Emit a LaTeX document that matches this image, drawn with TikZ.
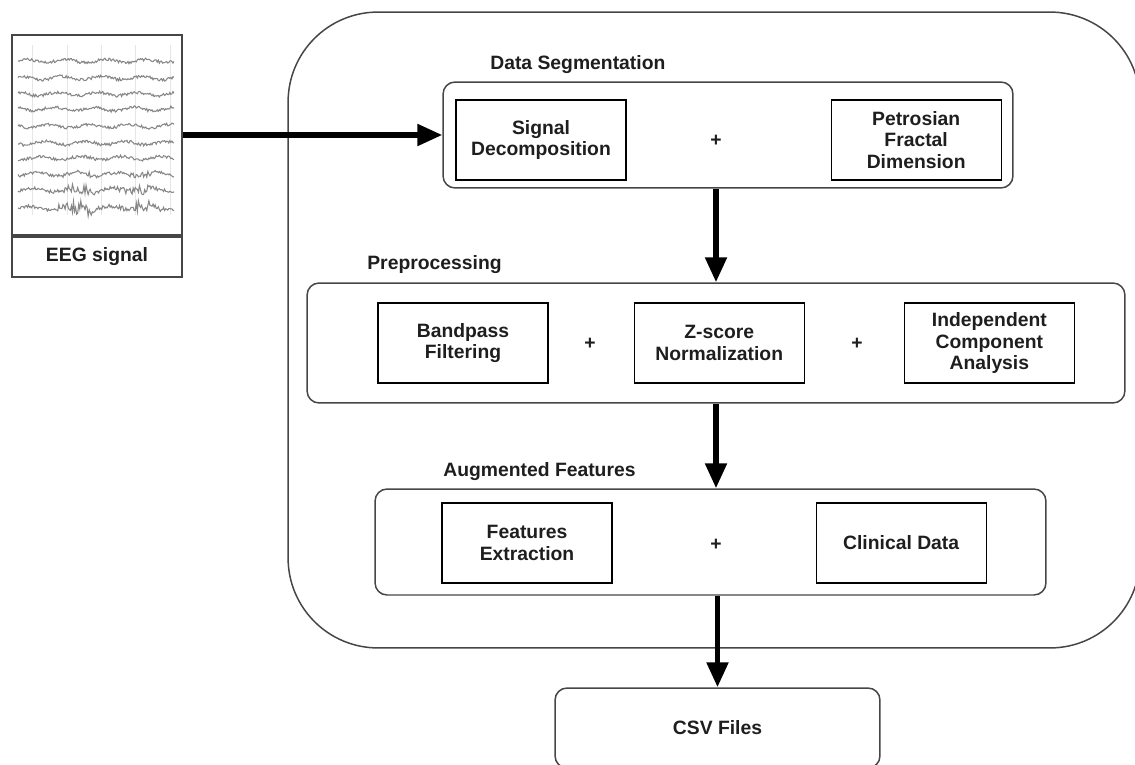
\documentclass[tikz,border=0pt]{standalone}
\usepackage{fontspec}
\setmainfont{Liberation Sans}
\usetikzlibrary{arrows.meta,positioning}
\definecolor{ink}{RGB}{30,30,30}
\definecolor{frame}{RGB}{70,70,70}
\definecolor{trace}{RGB}{135,135,135}
\definecolor{gridgray}{RGB}{230,230,230}
\tikzset{
  flow/.style={-{Triangle[length=5mm, width=4.2mm]}, line width=3pt, draw=black},
  unit/.style={draw=black, line width=.7pt, align=center,
               minimum width=34mm, minimum height=16mm, inner sep=2pt},
  group/.style={draw=frame, line width=.85pt, rounded corners=2.4mm,
                minimum height=21.2mm, align=center},
  tag/.style={anchor=west, inner sep=0pt},
  plus/.style={inner sep=0pt},
  eegbox/.style={draw=frame, line width=1pt, minimum width=34mm},
  every node/.append style={font=\fontsize{11}{12.4}\selectfont\bfseries, text=ink}
}
\begin{document}
\begin{tikzpicture}[x=0.02cm, y=-0.02cm]
  \useasboundingbox (0,0) rectangle (1135,764);
  \clip (0,0) rectangle (1135,764);
  % EEG recording thumbnail
  \foreach \gx in {32,67,101,135,170}
    \draw[gridgray, line width=.4pt] (\gx,45) -- (\gx,215);
  \pgfmathsetseed{7}
  \foreach \yy [count=\i] in {61,78,94,109,126,143,158,174,190,208}{
    \draw[trace, line width=.6pt] plot[domain=18:174, samples=150]
      (\x, {\yy + 1.5*rand + 1.7*sin(9*\x + 37*\i)
            + (\i>7)*(\i-7)*2.4*rand*(exp(-((\x-80)/20)^2) + exp(-((\x-140)/18)^2))});
  }
  \node[eegbox, minimum height=40mm] (eeg) at (97,135) {};
  \node[eegbox, minimum height=8mm] (eeglbl) at (97,257) {EEG signal};
  % pipeline frame
  \node[draw=frame, line width=.85pt, rounded corners=18mm,
        minimum width=170.4mm, minimum height=127.2mm] (pipe) at (714,330) {};
  % data segmentation
  \node[tag] (dsegtag) at (490,65) {Data Segmentation};
  \node[group, minimum width=114mm] (dseg) at (728,135) {};
  \node[unit] (sigdec) at (541,140) {Signal\\Decomposition};
  \node[unit, right=4.08cm of sigdec] (pfd) {Petrosian\\Fractal\\Dimension};
  \node[plus] (p1) at (716,141) {+};
  % preprocessing
  \node[tag] (preptag) at (367,265) {Preprocessing};
  \node[group, minimum width=163.6mm, minimum height=24mm] (prep) at (716,343) {};
  \node[unit] (bpf) at (463,343) {Bandpass\\Filtering};
  \node[unit, right=1.7cm of bpf] (zsn) {Z-score\\Normalization};
  \node[unit, right=1.98cm of zsn] (ica) {Independent\\Component\\Analysis};
  \node[plus] (p2) at (590,344) {+};
  \node[plus] (p3) at (857,344) {+};
  % augmented features
  \node[tag] (augtag) at (443,472) {Augmented Features};
  \node[group, minimum width=134.2mm] (aug) at (710.5,542) {};
  \node[unit] (fext) at (527,543) {Features\\Extraction};
  \node[unit, right=4.06cm of fext] (clin) {Clinical Data};
  \node[plus] (p4) at (716,545) {+};
  % output
  \node[group, minimum width=65mm, minimum height=16mm] (csv) at (717.5,728) {CSV Files};
  \draw[flow] (eeg.east) -- (dseg.west);
  \draw[flow] (prep.north |- dseg.south) -- (prep.north);
  \draw[flow] (prep.south) -- (prep.south |- aug.north);
  \draw[flow] (csv.north |- aug.south) -- (csv.north);
\end{tikzpicture}
\end{document}
